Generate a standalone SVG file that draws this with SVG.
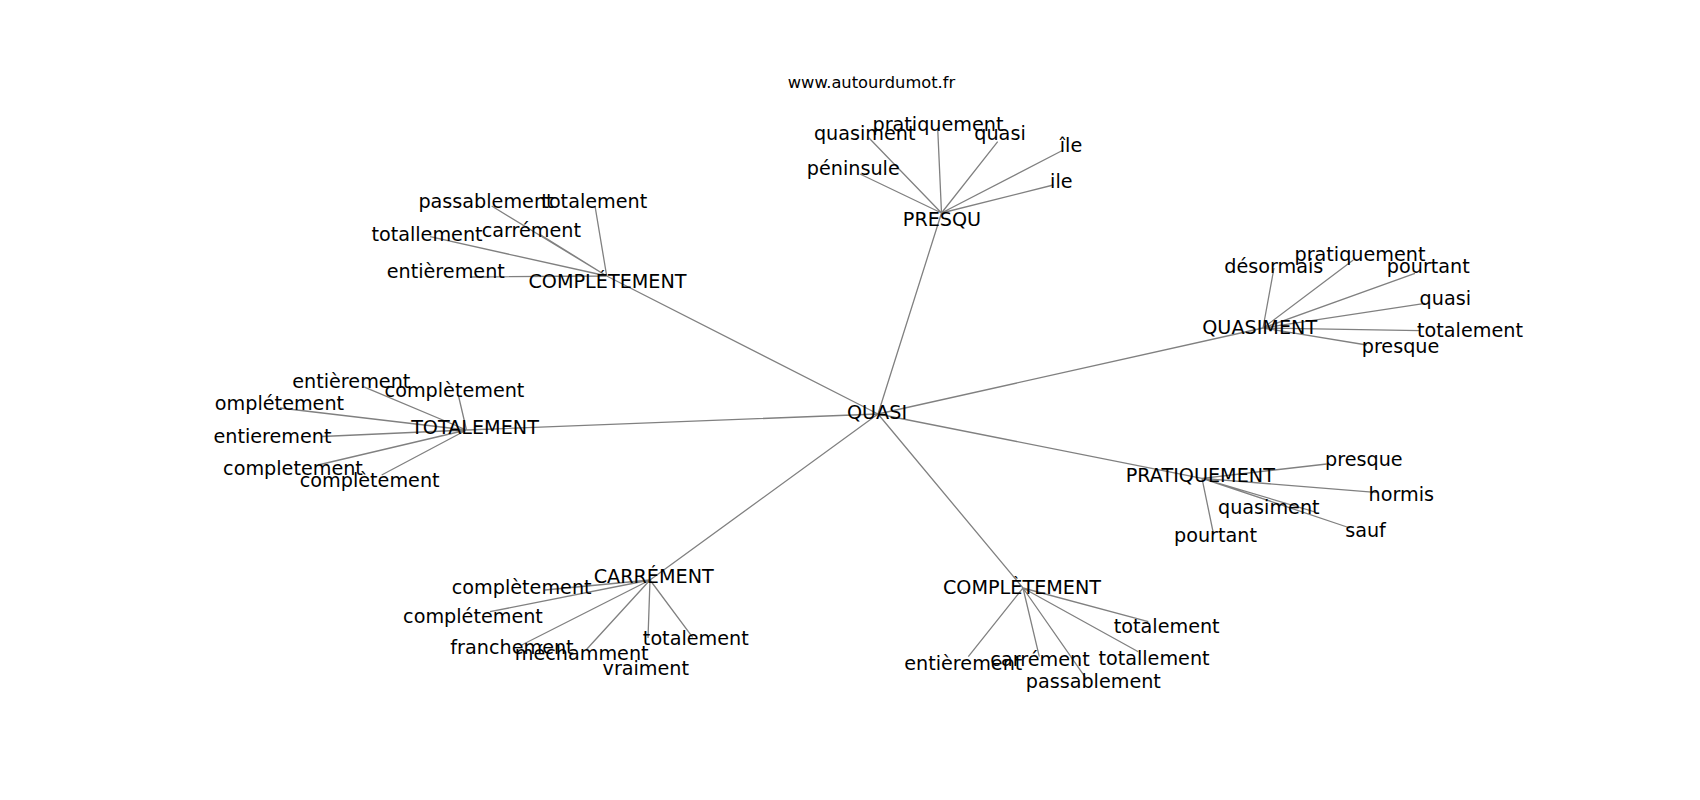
<svg xmlns="http://www.w3.org/2000/svg" width="1700" height="800" viewBox="0 0 1700 800">
<style>
.e{stroke:#808080;stroke-width:1.3;fill:none}
text{font-family:"DejaVu Sans","Liberation Sans",sans-serif;font-size:19.2px;fill:#000;text-anchor:middle}
.t{font-size:16.3px}
</style>
<rect width="1700" height="800" fill="#fff"/>
<g id="connectors">
<path class="e" d="M878 414L941.5 213M878 414L606.7 276M878 414L466.5 430M878 414L1263 328M878 414L1202 478.3M878 414L650 580M878 414L1023 588"/>
<path class="e" d="M941.5 213L868.3 137.3M941.5 213L937.7 128.3M941.5 213L997.7 141.7M941.5 213L1063.3 150M941.5 213L1053.3 185M941.5 213L860 174"/>
<path class="e" d="M606.7 276L491.7 206M606.7 276L595 206M606.7 276L430 236.7M606.7 276L540 234.5M606.7 276L470 277"/>
<path class="e" d="M466.5 430L363.3 386.7M466.5 430L458.3 395M466.5 430L280 408M466.5 430L322 436.5M466.5 430L318 465M466.5 430L381.7 475"/>
<path class="e" d="M1263 328L1274 268M1263 328L1353.3 260M1263 328L1415 273.3M1263 328L1425 303.3M1263 328L1420 330.7M1263 328L1366.7 345"/>
<path class="e" d="M1202 478.3L1326.7 464M1202 478.3L1378.3 492.7M1202 478.3L1315 512M1202 478.3L1350 528M1202 478.3L1213.3 533"/>
<path class="e" d="M650 580L545 590M650 580L490 611.7M650 580L521.7 645M650 580L586.7 649.3M650 580L692.7 637.3M650 580L648 638"/>
<path class="e" d="M1023 588L1148.3 621.7M1023 588L968.3 656.7M1023 588L1039.3 656.7M1023 588L1138.3 651.7M1023 588L1086.7 679.3"/>
</g>
<text class="t" x="871.5" y="88.3">www.autourdumot.fr</text>
<g id="n-quasi"><text x="877" y="419.3">QUASI</text></g>
<g id="n-presqu"><text x="942" y="225.7">PRESQU</text></g>
<g id="n-presqu-quasiment"><text x="864.7" y="140">quasiment</text></g>
<g id="n-presqu-pratiquement"><text x="938" y="130.7">pratiquement</text></g>
<g id="n-presqu-quasi"><text x="1000" y="140">quasi</text></g>
<g id="n-presqu-ile2"><text x="1071" y="151.7">île</text></g>
<g id="n-presqu-ile"><text x="1061.3" y="187.7">ile</text></g>
<g id="n-presqu-peninsule"><text x="853.3" y="175">péninsule</text></g>
<g id="n-completement1"><text x="607.5" y="288.3">COMPLÉTEMENT</text></g>
<g id="n-c1-passablement"><text x="486" y="208.3">passablement</text></g>
<g id="n-c1-totalement"><text x="594.3" y="208.3">totalement</text></g>
<g id="n-c1-totallement"><text x="427" y="240.7">totallement</text></g>
<g id="n-c1-carrement"><text x="531.3" y="236.7">carrément</text></g>
<g id="n-c1-entierement"><text x="445.8" y="277.7">entièrement</text></g>
<g id="n-totalement"><text x="475" y="434.3">TOTALEMENT</text></g>
<g id="n-t-entierement"><text x="351.3" y="388.3">entièrement</text></g>
<g id="n-t-completement1"><text x="454.5" y="396.7">complètement</text></g>
<g id="n-t-ompletement"><text x="279.5" y="410">omplétement</text></g>
<g id="n-t-entierement2"><text x="272.5" y="442.7">entierement</text></g>
<g id="n-t-completement2"><text x="293" y="475">completement</text></g>
<g id="n-t-completement3"><text x="369.7" y="486.7">complètement</text></g>
<g id="n-quasiment"><text x="1259.7" y="333.8">QUASIMENT</text></g>
<g id="n-q-desormais"><text x="1273.8" y="273.3">désormais</text></g>
<g id="n-q-pratiquement"><text x="1360" y="260.7">pratiquement</text></g>
<g id="n-q-pourtant"><text x="1428.3" y="273.3">pourtant</text></g>
<g id="n-q-quasi"><text x="1445.3" y="305">quasi</text></g>
<g id="n-q-totalement"><text x="1470" y="336.7">totalement</text></g>
<g id="n-q-presque"><text x="1400.5" y="353.3">presque</text></g>
<g id="n-pratiquement"><text x="1200.3" y="481.7">PRATIQUEMENT</text></g>
<g id="n-p-presque"><text x="1363.8" y="466">presque</text></g>
<g id="n-p-hormis"><text x="1401.3" y="500.7">hormis</text></g>
<g id="n-p-quasiment"><text x="1268.8" y="514">quasiment</text></g>
<g id="n-p-sauf"><text x="1365.5" y="536.7">sauf</text></g>
<g id="n-p-pourtant"><text x="1215.5" y="541.7">pourtant</text></g>
<g id="n-carrement"><text x="653.7" y="583.3">CARRÉMENT</text></g>
<g id="n-ca-completement"><text x="521.7" y="594.3">complètement</text></g>
<g id="n-ca-completement2"><text x="473" y="623.3">complétement</text></g>
<g id="n-ca-franchement"><text x="512" y="654">franchement</text></g>
<g id="n-ca-mechamment"><text x="581.7" y="660">méchamment</text></g>
<g id="n-ca-totalement"><text x="695.8" y="645">totalement</text></g>
<g id="n-ca-vraiment"><text x="645.8" y="675">vraiment</text></g>
<g id="n-completement2"><text x="1022" y="594">COMPLÈTEMENT</text></g>
<g id="n-c2-totalement"><text x="1166.7" y="632.7">totalement</text></g>
<g id="n-c2-entierement"><text x="963.3" y="670">entièrement</text></g>
<g id="n-c2-carrement"><text x="1040" y="666">carrément</text></g>
<g id="n-c2-totallement"><text x="1154" y="665">totallement</text></g>
<g id="n-c2-passablement"><text x="1093.3" y="688.3">passablement</text></g>
</svg>
